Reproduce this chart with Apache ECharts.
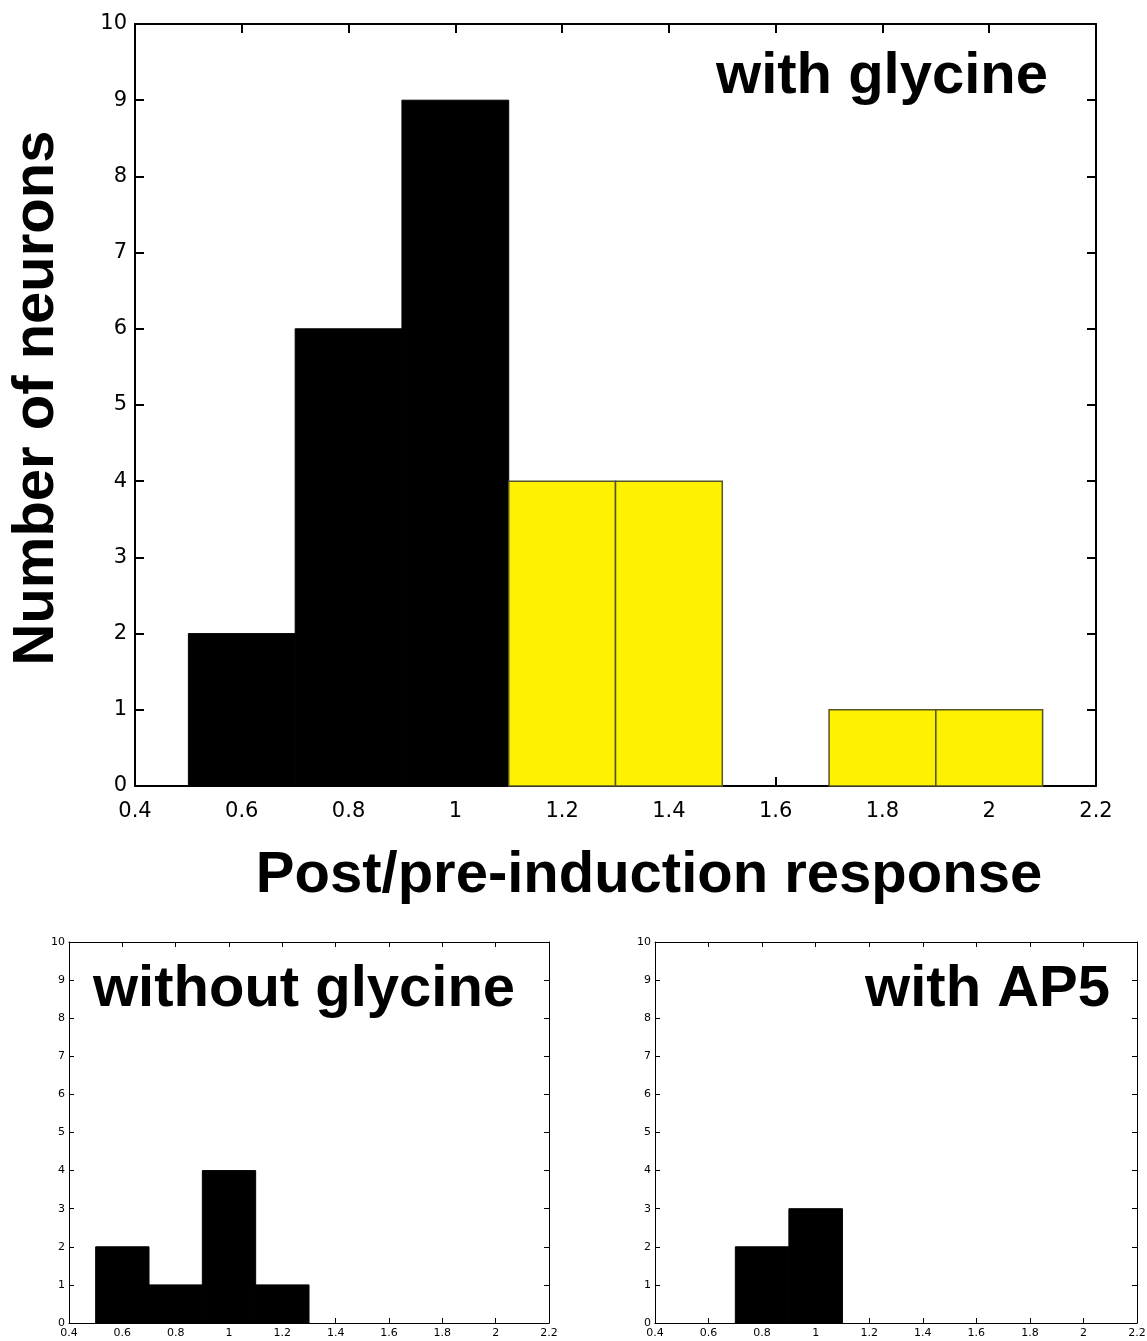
<!DOCTYPE html>
<html>
<head>
<meta charset="utf-8">
<script src="https://cdn.jsdelivr.net/npm/echarts@6/dist/echarts.min.js"></script>
<style>
html,body{margin:0;padding:0;background:#fff;}
#chart{width:1147px;height:1341px;}
</style>
</head>
<body>
<div id="chart"></div>
<script>
// ---- data ----
const binWidth = 0.2;
const binCenters = [0.6, 0.8, 1.0, 1.2, 1.4, 1.6, 1.8, 2.0];
const countsGlycine = [2, 6, 9, 4, 4, 0, 1, 1];
const countsNoGlycine = [2, 1, 4, 1, 0, 0, 0, 0];
const countsAP5 = [0, 2, 3, 0, 0, 0, 0, 0];
const highlightPanel = [true, false, false]; // only the main panel marks potentiated bins
const potentiatedFrom = 1.1; // bins above this are highlighted in yellow
const xTicks = [0.4, 0.6, 0.8, 1, 1.2, 1.4, 1.6, 1.8, 2, 2.2];
const yTicks = [0,1,2,3,4,5,6,7,8,9,10];
const panelTitles = ['with glycine', 'without glycine', 'with AP5'];
const xAxisTitle = 'Post/pre-induction response';
const yAxisTitle = 'Number of neurons';

const chart = echarts.init(document.getElementById('chart'), null, {renderer:'canvas'});

const grids = [
  {left:135, top:24, width:961, height:762},
  {left:69, top:942, width:480, height:381},
  {left:655, top:942, width:482, height:381}
];
const tickFont = '"DejaVu Sans", sans-serif';
const tickSize = [21, 11, 11];
const tickLen = [9, 5, 5];
const lineW = [2, 1, 1];
const xMargin = [15, 5, 5];
const yMargin = [8, 4, 4];

const xAxes = [], yAxes = [], series = [];
grids.forEach((g, i) => {
  const common = {
    type:'value', gridIndex:i, min:0.4, max:2.2, interval:0.2,
    splitLine:{show:false},
    axisLine:{show:true, onZero:false, lineStyle:{color:'#000', width:lineW[i]}},
    axisTick:{show:true, inside:true, length:tickLen[i], lineStyle:{color:'#000', width:lineW[i]}}
  };
  xAxes.push(Object.assign({}, common, {position:'bottom',
    axisLabel:{show:true, color:'#000', fontFamily:tickFont, fontSize:tickSize[i], margin:xMargin[i],
      showMinLabel:true, showMaxLabel:true,
      formatter:v => { const r = Math.round(v*10)/10; return xTicks.includes(r) ? String(r) : ''; }}
  }));
  xAxes.push(Object.assign({}, common, {position:'top', axisLabel:{show:false}}));
  const ycommon = {
    type:'value', gridIndex:i, min:0, max:10, interval:1,
    splitLine:{show:false},
    axisLine:{show:true, onZero:false, lineStyle:{color:'#000', width:lineW[i]}},
    axisTick:{show:true, inside:true, length:tickLen[i], lineStyle:{color:'#000', width:lineW[i]}}
  };
  yAxes.push(Object.assign({}, ycommon, {position:'left',
    axisLabel:{show:true, color:'#000', fontFamily:tickFont, fontSize:tickSize[i], margin:yMargin[i],
      showMinLabel:true, showMaxLabel:true,
      formatter:v => yTicks.includes(v) ? String(v) : ''}
  }));
  yAxes.push(Object.assign({}, ycommon, {position:'right', axisLabel:{show:false}}));
});

const allCounts = [countsGlycine, countsNoGlycine, countsAP5];
allCounts.forEach((counts, i) => {
  series.push({
    type:'custom',
    xAxisIndex: i*2, yAxisIndex: i*2,
    clip:false,
    data: binCenters.map((c, k) => [c, counts[k]]),
    renderItem: function(params, api){
      const c = api.value(0), v = api.value(1);
      if (!v) return null;
      const p0 = api.coord([c - binWidth/2, v]);
      const p1 = api.coord([c + binWidth/2, 0]);
      const yellow = highlightPanel[i] && c > potentiatedFrom;
      return {
        type:'rect',
        shape:{x:p0[0], y:p0[1], width:p1[0]-p0[0], height:p1[1]-p0[1]},
        style:{fill: yellow ? '#FFF200' : '#000', stroke: yellow ? '#55552a' : '#000', lineWidth: yellow ? 1.5 : 1}
      };
    },
    z:1
  });
});

const titleFont = 'bold 58px "Liberation Sans", Arial, sans-serif';
chart.setOption({
  animation:false,
  backgroundColor:'#fff',
  grid: grids.map(g => Object.assign({containLabel:false, outerBoundsMode:'none'}, g)),
  xAxis: xAxes,
  yAxis: yAxes,
  series: series,
  graphic: [
    {type:'text', right: 1147-1048, top: 48, style:{text:panelTitles[0], font:titleFont, fill:'#000'}},
    {type:'text', left: 93, top: 961, style:{text:panelTitles[1], font:titleFont, fill:'#000'}},
    {type:'text', right: 1147-1110, top: 961, style:{text:panelTitles[2], font:titleFont, fill:'#000'}},
    {type:'text', x: 649, y: 876, style:{text:xAxisTitle, font:titleFont, fill:'#000', align:'center', verticalAlign:'middle'}},
    {type:'text', x: 37, y: 398, rotation: Math.PI/2, style:{text:yAxisTitle, font:titleFont, fill:'#000', align:'center', verticalAlign:'middle'}}
  ]
});
</script>
</body>
</html>
